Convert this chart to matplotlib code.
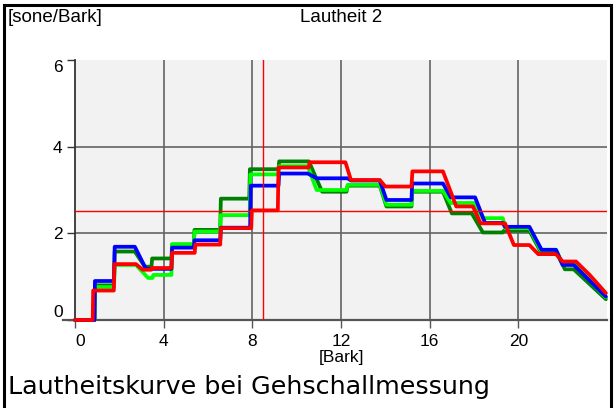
import matplotlib
matplotlib.use('Agg')
import matplotlib.pyplot as plt
from matplotlib.patches import Rectangle

plt.rcParams['font.family'] = ['Liberation Sans', 'DejaVu Sans']

# ---- data ----
x_ticks = [0, 4, 8, 12, 16, 20]
y_ticks = [0, 2, 4, 6]

dkgreen_bark = [0, 0.88, 0.9, 1.76, 1.79, 2.7, 3.15, 3.45, 3.48, 4.35, 4.38, 5.36, 5.39, 6.55, 6.58,
                7.86, 7.89, 9.18, 9.21, 10.55, 11.15, 12.25, 12.3, 13.75, 14.05, 15.18, 15.21, 16.6,
                17.0, 17.9, 18.4, 19.3, 19.35, 20.5, 21.0, 21.7, 22.1, 22.5, 23.95]
dkgreen_sone = [0, 0, 0.8, 0.8, 1.58, 1.58, 1.23, 1.23, 1.42, 1.42, 1.74, 1.74, 2.08, 2.08, 2.8,
                2.8, 3.48, 3.48, 3.66, 3.66, 2.96, 2.96, 3.1, 3.1, 2.62, 2.62, 2.96, 2.96,
                2.46, 2.46, 2.02, 2.02, 2.06, 2.06, 1.58, 1.58, 1.17, 1.17, 0.48]

lime_bark = [0, 0.88, 0.9, 1.76, 1.79, 2.75, 3.3, 3.5, 3.53, 4.35, 4.38, 5.36, 5.39, 6.55, 6.58,
             7.88, 7.91, 9.18, 9.21, 10.5, 10.9, 12.25, 12.3, 13.75, 14.05, 15.18, 15.21, 16.6,
             16.95, 18.0, 18.4, 19.3, 19.4, 20.5, 21.0, 21.7, 22.0, 22.5, 23.95]
lime_sone = [0, 0, 0.76, 0.76, 1.27, 1.27, 0.97, 0.97, 1.04, 1.04, 1.75, 1.75, 2.04, 2.04, 2.42,
             2.42, 3.36, 3.36, 3.55, 3.55, 3.0, 3.0, 3.12, 3.12, 2.66, 2.66, 2.98, 2.98,
             2.7, 2.7, 2.35, 2.35, 2.12, 2.12, 1.62, 1.62, 1.3, 1.3, 0.52]

blue_bark = [0, 0.88, 0.9, 1.76, 1.79, 2.7, 3.2, 4.35, 4.38, 5.36, 5.39, 6.55, 6.58, 7.9, 7.93,
             9.18, 9.21, 10.5, 10.9, 12.3, 12.45, 13.75, 14.05, 15.18, 15.21, 16.6, 16.95, 18.05,
             18.5, 19.3, 19.4, 20.5, 21.05, 21.7, 22.0, 22.5, 23.95]
blue_sone = [0, 0, 0.9, 0.9, 1.69, 1.69, 1.18, 1.18, 1.67, 1.67, 1.84, 1.84, 2.13, 2.13, 3.1,
             3.1, 3.38, 3.38, 3.27, 3.27, 3.22, 3.22, 2.77, 2.77, 3.15, 3.15, 2.83, 2.83,
             2.24, 2.24, 2.15, 2.15, 1.62, 1.62, 1.27, 1.27, 0.54]

red_bark = [0, 0.8, 0.82, 1.75, 1.78, 2.75, 3.05, 3.45, 3.47, 4.35, 4.38, 5.4, 5.43, 6.55, 6.58,
            7.95, 7.98, 9.15, 9.18, 10.55, 10.58, 12.2, 12.45, 13.75, 14.0, 15.18, 15.22, 16.6,
            17.2, 17.95, 18.3, 19.4, 19.8, 20.5, 20.9, 21.7, 22.0, 22.6, 22.9, 23.2, 23.5, 23.95]
red_sone = [0, 0, 0.68, 0.68, 1.29, 1.29, 1.16, 1.16, 1.2, 1.2, 1.55, 1.55, 1.74, 1.74, 2.12,
            2.12, 2.53, 2.53, 3.52, 3.52, 3.64, 3.64, 3.23, 3.23, 3.08, 3.08, 3.43, 3.43,
            2.62, 2.62, 2.23, 2.23, 1.73, 1.73, 1.52, 1.52, 1.35, 1.35, 1.2, 1.05, 0.88, 0.62]

cursor_bark = 8.48
cursor_sone = 2.52

# ---- figure ----
W, H = 614, 408
fig = plt.figure(figsize=(W / 100, H / 100), dpi=100)
fig.patch.set_facecolor('white')
ax = fig.add_axes([75 / W, 88 / H, 532 / W, 260 / H])
ax.set_facecolor('#f2f2f2')
ax.set_xlim(0, 24)
ax.set_ylim(0, 6)

for s in ['top', 'right', 'bottom']:
    ax.spines[s].set_visible(False)
ax.spines['left'].set_color('#333333')
ax.spines['left'].set_linewidth(1.3)

grid_c = '#646464'
for v in x_ticks[1:]:
    ax.axvline(v, color=grid_c, lw=1.2, zorder=1)
for h in [2, 4]:
    ax.axhline(h, color=grid_c, lw=1.2, zorder=1)

# x axis line extending past the plot on the left
ax.plot([-0.022, 1.0], [0, 0], transform=ax.transAxes, clip_on=False,
        color='#555555', lw=1.6, zorder=2)

lw = 2.7
style = dict(lw=lw, clip_on=False, solid_joinstyle='round', solid_capstyle='round')
ax.plot(dkgreen_bark, dkgreen_sone, color='#008000', zorder=3, **style)
ax.plot(lime_bark, lime_sone, color='#00ff00', zorder=4, **style)
ax.plot(blue_bark, blue_sone, color='#0000ff', zorder=5, **style)
ax.plot(red_bark, red_sone, color='#ff0000', zorder=6, **style)

ax.axvline(cursor_bark, color='#ff0000', lw=1.0, zorder=7)
ax.axhline(cursor_sone, color='#ff0000', lw=1.0, zorder=7)

ax.set_xticks(x_ticks)
ax.set_yticks(y_ticks)
ax.set_xticklabels([str(t) for t in x_ticks])
ax.set_yticklabels([str(t) for t in y_ticks])
ax.tick_params(axis='x', length=6, width=1.0, color='#555555', pad=4, labelsize=12.5)
ax.tick_params(axis='y', length=6, width=1.0, color='#333333', pad=3, labelsize=12.5)
xl = ax.get_xticklabels()
xl[0].set_ha('left')
yl = ax.get_yticklabels()
yl[0].set_va('bottom')
yl[-1].set_va('top')
ax.set_xlabel('[Bark]', fontsize=12.5, labelpad=1)

fig.text(8 / W, 1 - 18 / H, '[sone/Bark]', fontsize=13.5, va='center', ha='left')
fig.text(341 / W, 1 - 18 / H, 'Lautheit 2', fontsize=13.5, va='center', ha='center')
fig.text(8 / W, 1 - 387 / H, 'Lautheitskurve bei Gehschallmessung', family='DejaVu Sans',
         fontsize=18.3, va='center', ha='left')

fig.add_artist(Rectangle((4 / W, -0.05), 607 / W, 403 / H + 0.05, transform=fig.transFigure,
                         fill=False, lw=2.2, ec='black'))

fig.savefig('out.png', dpi=100)
